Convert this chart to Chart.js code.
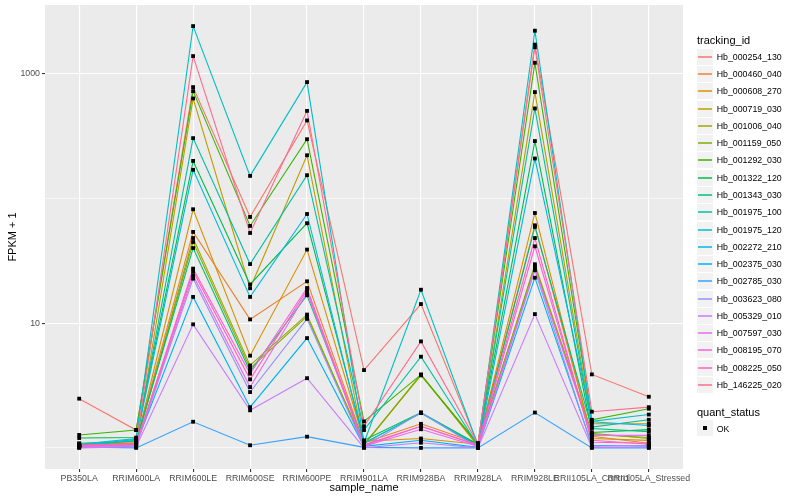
<!DOCTYPE html>
<html><head><meta charset="utf-8">
<script src="https://cdn.jsdelivr.net/npm/chart.js@4.4.1/dist/chart.umd.min.js"></script>
<style>
html,body{margin:0;padding:0;background:#fff;}
#wrap{position:relative;width:800px;height:500px;font-family:"Liberation Sans",Arial,Helvetica,sans-serif;overflow:hidden;}
#c{position:absolute;left:0;top:0;}
.lg{position:absolute;white-space:nowrap;}
</style></head><body>
<div id="wrap"><canvas id="c" width="800" height="500"></canvas><div id="legend"></div></div>
<script>
// ---- data ----
const categories = ['PB350LA','RRIM600LA','RRIM600LE','RRIM600SE','RRIM600PE','RRIM901LA','RRIM928BA','RRIM928LA','RRIM928LE','RRII105LA_Control','RRII105LA_Stressed'];
const trackingIds = ['Hb_000254_130','Hb_000460_040','Hb_000608_270','Hb_000719_030','Hb_001006_040','Hb_001159_050','Hb_001292_030','Hb_001322_120','Hb_001343_030','Hb_001975_100','Hb_001975_120','Hb_002272_210','Hb_002375_030','Hb_002785_030','Hb_003623_080','Hb_005329_010','Hb_007597_030','Hb_008195_070','Hb_008225_050','Hb_146225_020'];
const quantStatus = ['OK'];

// FPKM + 1 per sample, in category order
const Hb_000254_130 = [2.48, 1.39, 777, 70.8, 420, 4.20, 14.2, 1.07, 1700, 3.88, 2.57];
const Hb_000460_040 = [1.07, 1.12, 53.7, 10.7, 21.6, 1.10, 1.56, 1.09, 60.7, 1.24, 1.09];
const Hb_000608_270 = [1.05, 1.10, 81.6, 5.48, 38.8, 1.13, 1.19, 1.07, 76.2, 1.19, 1.15];
const Hb_000719_030 = [1.03, 1.05, 630, 19.0, 221, 1.06, 3.86, 1.03, 708, 1.56, 1.56];
const Hb_001006_040 = [1.04, 1.08, 48.0, 4.58, 11.7, 1.05, 3.86, 1.05, 29.6, 1.31, 1.19];
const Hb_001159_050 = [1.06, 1.09, 44.6, 4.33, 11.3, 1.07, 3.81, 1.09, 28.5, 1.28, 1.21];
const Hb_001292_030 = [1.27, 1.39, 721, 60.0, 297, 1.63, 3.86, 1.07, 1216, 1.68, 2.06];
const Hb_001322_120 = [1.20, 1.21, 199, 20.4, 63.1, 1.15, 1.92, 1.07, 287, 1.33, 1.40];
const Hb_001343_030 = [1.09, 1.13, 39.9, 4.10, 16.7, 1.09, 1.90, 1.05, 58.9, 1.43, 1.35];
const Hb_001975_100 = [1.03, 1.15, 303, 29.7, 153, 1.39, 5.38, 1.05, 524, 1.47, 1.68];
const Hb_001975_120 = [1.07, 1.19, 2393, 151, 852, 1.10, 18.5, 1.05, 2196, 1.63, 1.85];
const Hb_002272_210 = [1.05, 1.17, 169, 16.2, 74.8, 1.09, 1.90, 1.03, 208, 1.62, 1.51];
const Hb_002375_030 = [1.03, 1.07, 16.2, 2.12, 7.58, 1.03, 1.15, 1.01, 23.1, 1.05, 1.03];
const Hb_002785_030 = [1.02, 1.00, 1.62, 1.05, 1.23, 1.01, 1.00, 1.00, 1.92, 1.00, 1.00];
const Hb_003623_080 = [1.01, 1.03, 22.7, 2.80, 10.8, 1.02, 1.92, 1.01, 26.5, 1.03, 1.05];
const Hb_005329_010 = [1.00, 1.02, 9.77, 2.00, 3.62, 1.00, 1.10, 1.00, 11.8, 1.01, 1.01];
const Hb_007597_030 = [1.02, 1.05, 24.2, 3.07, 17.6, 1.03, 1.41, 1.03, 27.3, 1.26, 1.26];
const Hb_008195_070 = [1.04, 1.06, 27.3, 3.93, 19.1, 1.04, 1.49, 1.05, 41.2, 1.15, 1.07];
const Hb_008225_050 = [1.05, 1.08, 26.0, 3.54, 18.3, 1.06, 1.49, 1.06, 48.0, 1.11, 1.09];
const Hb_146225_020 = [1.05, 1.08, 1376, 52.7, 501, 1.49, 7.13, 1.08, 1620, 1.95, 2.12];

const seriesValues = [Hb_000254_130, Hb_000460_040, Hb_000608_270, Hb_000719_030, Hb_001006_040, Hb_001159_050, Hb_001292_030, Hb_001322_120, Hb_001343_030, Hb_001975_100, Hb_001975_120, Hb_002272_210, Hb_002375_030, Hb_002785_030, Hb_003623_080, Hb_005329_010, Hb_007597_030, Hb_008195_070, Hb_008225_050, Hb_146225_020];

const yTickValues = [1, 10, 100, 1000];
const yTickLabels = {10: '10', 1000: '1000'};

// ---- styles ----
const seriesColors = ['#F8766D','#EA8331','#D89000','#C09B00','#A3A500','#7CAE00','#39B600','#00BB4E','#00BF7D','#00C1A3','#00BFC4','#00BAE0','#00B0F6','#35A2FF','#9590FF','#C77CFF','#E76BF3','#FA62DB','#FF62BC','#FF6C91'];
const FONT = '"Liberation Sans", Arial, Helvetica, sans-serif';

const lineSets = seriesValues.map((vals, i) => ({
  label: trackingIds[i],
  data: vals.map((v, j) => ({x: j, y: v})),
  borderColor: seriesColors[i],
  backgroundColor: seriesColors[i],
  borderWidth: 1.1,
  pointRadius: 0,
  fill: false,
  tension: 0,
  order: 100 - i
}));
const pointSet = {
  label: quantStatus[0],
  data: seriesValues.flatMap(vals => vals.map((v, j) => ({x: j, y: v}))),
  showLine: false,
  pointStyle: 'rect',
  pointRadius: 2.7,
  pointBackgroundColor: '#000000',
  pointBorderColor: '#000000',
  pointBorderWidth: 0,
  order: 0
};

const panelBg = {
  id: 'panelBg',
  beforeDraw(chart) {
    const a = chart.chartArea, ctx = chart.ctx;
    ctx.save();
    ctx.fillStyle = '#EBEBEB';
    ctx.fillRect(a.left, a.top, a.right - a.left, a.bottom - a.top);
    ctx.restore();
  }
};

const isMajorY = ctx => !!(ctx.tick && yTickLabels[ctx.tick.value]);

new Chart(document.getElementById('c'), {
  type: 'line',
  data: { datasets: [pointSet, ...lineSets] },
  options: {
    responsive: false,
    animation: false,
    devicePixelRatio: 1,
    layout: { padding: { left: 0, right: 117, top: 5, bottom: 0 } },
    plugins: { legend: { display: false }, tooltip: { enabled: false } },
    scales: {
      x: {
        type: 'linear', min: -0.6, max: 10.6, bounds: 'data',
        afterBuildTicks: s => { s.ticks = categories.map((c, i) => ({ value: i })); },
        afterFit: s => { s.height = 31; s.paddingLeft = 0; s.paddingRight = 0; },
        ticks: { autoSkip: false, maxRotation: 0, minRotation: 0, padding: 1, color: '#4D4D4D',
                 font: { size: 8.8, family: FONT }, callback: v => categories[v] },
        grid: { color: '#FFFFFF', lineWidth: 1.1, tickColor: '#333333', tickLength: 3 },
        border: { display: false },
        title: { display: true, text: 'sample_name', color: '#000000', font: { size: 11, family: FONT },
                 padding: { top: 0, bottom: 5.5 } }
      },
      y: {
        type: 'logarithmic', min: Math.pow(10, -0.169), max: Math.pow(10, 3.548), bounds: 'data',
        afterBuildTicks: s => { s.ticks = yTickValues.map(v => ({ value: v, major: !!yTickLabels[v] })); },
        afterFit: s => { s.width = 45; s.paddingTop = 0; s.paddingBottom = 0; },
        ticks: { autoSkip: false, padding: 2, color: '#4D4D4D', font: { size: 8.8, family: FONT },
                 callback: v => yTickLabels[v] || '' },
        grid: { color: '#FFFFFF', lineWidth: ctx => isMajorY(ctx) ? 1.1 : 0.55,
                tickColor: ctx => isMajorY(ctx) ? '#333333' : 'rgba(0,0,0,0)', tickLength: 3 },
        border: { display: false },
        title: { display: true, text: 'FPKM + 1', color: '#000000', font: { size: 11, family: FONT },
                 padding: { top: 6, bottom: 0 } }
      }
    }
  },
  plugins: [panelBg]
});

// ---- legend (HTML text) ----
const lg = document.getElementById('legend');
function el(style, text) {
  const d = document.createElement('div');
  d.className = 'lg';
  Object.assign(d.style, style);
  if (text !== undefined) d.textContent = text;
  lg.appendChild(d);
  return d;
}
el({ left: '697px', top: '33px', fontSize: '11px', lineHeight: '14px', color: '#000' }, 'tracking_id');
const rowH = 17.28, firstC = 56.7;
trackingIds.forEach((id, i) => {
  const cy = firstC + rowH * i;
  const ry = Math.round(cy);
  el({ left: '697px', top: (ry - 8) + 'px', width: '16px', height: '16px', background: '#F2F2F2' });
  el({ left: '698px', top: (ry - 1) + 'px', width: '14px', height: '2px', background: seriesColors[i], opacity: '0.75' });
  el({ left: '716.7px', top: (cy - 6) + 'px', fontSize: '8.8px', lineHeight: '12px', color: '#000' }, id);
});
el({ left: '697px', top: '405px', fontSize: '11px', lineHeight: '14px', color: '#000' }, 'quant_status');
el({ left: '697px', top: '420px', width: '16px', height: '16px', background: '#F2F2F2' });
el({ left: '703px', top: '426px', width: '4px', height: '4px', background: '#000' });
el({ left: '716.7px', top: (428.5 - 6) + 'px', fontSize: '8.8px', lineHeight: '12px', color: '#000' }, quantStatus[0]);
</script>
</body></html>
